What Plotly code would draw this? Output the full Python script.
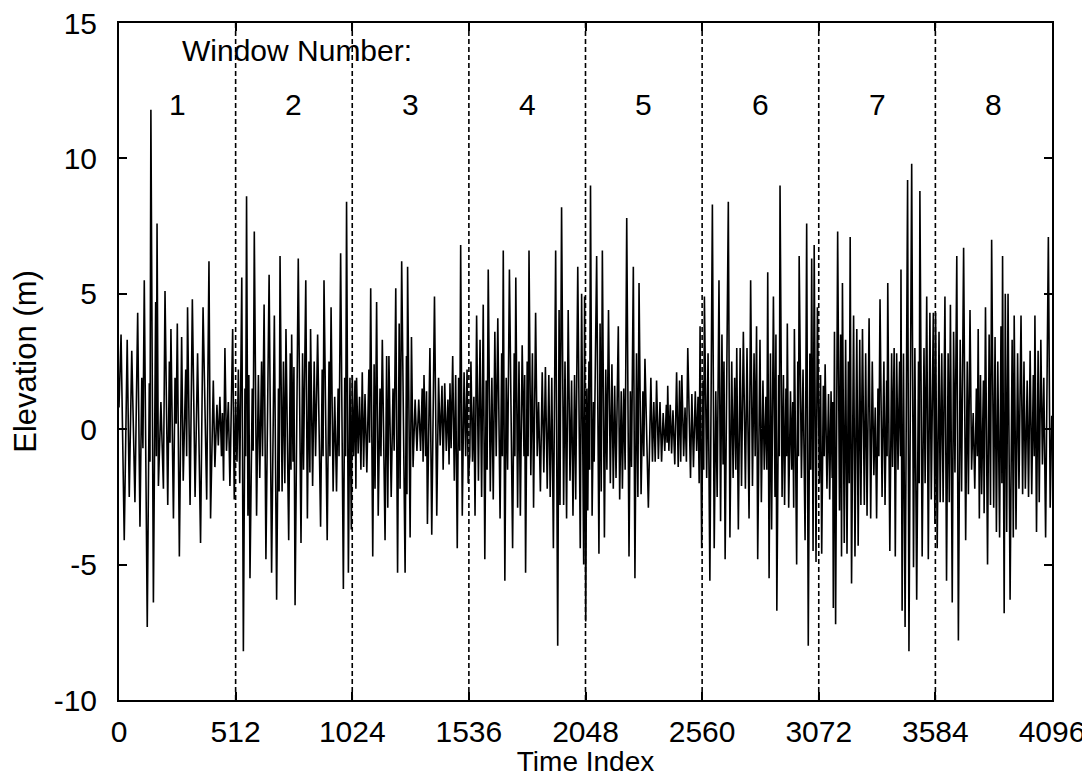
import plotly.graph_objects as go

# ---- data (time index, elevation in m) : local extrema ----
window1 = [(0,0.8),(9,3.5),(23,-4.1),(36,3.3),(45,-2.5),(56,2.9),(70,-2.7),(82,4.3),(92,-3.6),(100,1.9),(105,-0.7),(111,5.5),(124,-7.3),(133,1.7),(136,-1.2),(140,11.8),(151,-6.4),(161,4.7),(164,-1.0),(167,7.6),(173,-2.1),(184,1.0),(195,-2.2),(202,5.1),(214,-2.8),(221,2.5),(224,-0.5),(228,3.7),(239,-3.3),(246,1.9),(251,0.2),(256,3.9),(265,-4.7),(275,3.4),(282,-1.9),(293,2.2),(297,-1.0),(301,4.5),(312,-2.8),(322,4.8),(334,-2.5),(345,2.8),(358,-4.2),(369,4.5),(385,-2.6),(395,6.2),(402,-3.3),(414,1.8),(421,-1.4),(430,0.9),(436,-0.6),(443,1.2),(450,-1.0),(454,0.6),(459,-1.9),(465,3.0),(472,-0.8),(480,1.0),(487,-2.1),(499,3.7),(506,-2.6)]
window2 = [(512,1.0),(518,-1.2),(524,2.2),(530,-2.0),(539,5.6),(546,-8.2),(553,1.5),(556,-1.0),(560,8.6),(566,-3.2),(570,2.0),(575,-5.5),(585,1.5),(589,-0.8),(594,7.3),(604,-3.2),(612,2.0),(618,-1.8),(626,2.5),(630,-1.0),(637,4.6),(645,-4.8),(659,5.7),(670,-5.3),(682,4.2),(692,-6.3),(700,1.5),(703,-2.3),(707,6.4),(716,-2.3),(722,2.5),(728,-2.0),(733,3.7),(745,-4.1),(752,2.8),(755,-1.5),(758,3.5),(764,-1.2),(768,2.3),(773,-6.5),(787,6.3),(799,-4.2),(806,2.8),(810,-1.5),(820,5.5),(827,-3.3),(834,2.5),(838,-1.6),(841,3.7),(850,-2.1),(857,2.5),(863,-1.0),(872,3.5),(885,-3.6),(892,2.2),(896,-1.0),(900,5.5),(914,-4.1),(922,2.5),(926,-1.0),(931,4.5),(940,-2.3),(947,1.2),(955,-2.3),(962,1.5),(966,-1.0),(973,6.5),(985,-5.9),(991,1.9),(995,-1.0),(999,8.4),(1007,-5.3),(1014,1.9),(1020,-3.7)]
window3 = [(1024,2.0),(1030,-1.0),(1036,1.8),(1040,-2.2),(1043,1.9),(1050,-0.9),(1056,1.2),(1062,-1.5),(1068,2.1),(1074,-1.4),(1080,1.3),(1088,-1.6),(1097,2.2),(1100,-0.5),(1105,5.2),(1114,-4.7),(1120,2.4),(1124,-2.2),(1131,4.7),(1138,-3.2),(1146,1.5),(1150,-1.0),(1156,3.3),(1168,-4.1),(1175,2.7),(1180,-2.9),(1185,2.7),(1195,-2.5),(1203,1.5),(1208,-0.8),(1215,5.2),(1223,-5.3),(1230,3.9),(1234,-2.2),(1241,6.2),(1256,-5.3),(1262,2.7),(1264,-2.4),(1267,6.0),(1278,-4.0),(1284,3.4),(1291,-1.4),(1300,1.1),(1308,-0.8),(1316,1.1),(1324,-0.8),(1331,1.5),(1335,-1.2),(1339,2.0),(1346,-1.0),(1350,1.4),(1354,-3.5),(1365,3.0),(1373,-3.9),(1385,4.9),(1395,-3.2),(1403,1.9),(1410,-0.6),(1418,1.6),(1423,-1.5),(1430,1.7),(1437,-0.8),(1444,1.1),(1449,-1.3),(1453,1.7),(1458,-0.7),(1465,2.7),(1472,-1.9),(1478,2.0),(1485,-4.4),(1491,1.9),(1496,-0.8),(1500,6.8),(1507,-3.2),(1515,2.1),(1522,-1.0),(1528,2.2),(1533,-2.0)]
window4 = [(1540,-1.0),(1545,2.5),(1552,-1.2),(1558,1.2),(1563,-3.2),(1570,4.2),(1578,-1.9),(1585,3.3),(1592,-2.5),(1599,4.6),(1606,-4.8),(1612,1.8),(1616,-1.5),(1621,5.9),(1630,-2.3),(1637,1.9),(1643,-2.6),(1650,3.6),(1656,-1.0),(1663,4.1),(1673,-3.3),(1680,2.8),(1683,-1.0),(1687,6.6),(1694,-5.6),(1700,1.9),(1706,-1.5),(1714,5.9),(1728,-4.4),(1735,2.8),(1738,-1.0),(1742,5.6),(1750,-2.9),(1756,2.5),(1762,-3.2),(1770,3.1),(1778,-1.0),(1781,2.0),(1785,-5.3),(1792,2.5),(1796,-1.0),(1800,6.6),(1808,-1.7),(1815,2.8),(1820,-2.9),(1829,4.3),(1836,-1.0),(1842,1.0),(1850,-2.3),(1858,2.1),(1865,-1.6),(1872,2.3),(1880,-2.2),(1887,2.0),(1893,-2.5),(1900,1.9),(1907,-4.4),(1917,6.6),(1926,-8.0),(1932,4.4),(1936,-2.8),(1943,8.2),(1952,-2.8),(1958,2.5),(1965,-3.3),(1972,4.4),(1980,-1.9),(1987,1.8),(1993,-3.2),(2000,2.0),(2005,-2.6),(2014,6.0),(2025,-4.4),(2031,5.0),(2040,-5.0),(2044,4.9)]
window5 = [(2049,-7.1),(2054,1.5),(2058,-3.0),(2063,2.5),(2066,-1.5),(2070,9.0),(2077,-3.2),(2083,1.0),(2086,-1.2),(2097,6.4),(2107,-4.6),(2112,3.9),(2117,-2.3),(2122,6.6),(2131,-4.0),(2137,2.2),(2142,-1.5),(2149,4.4),(2157,-2.0),(2164,2.4),(2170,-2.2),(2176,1.6),(2182,-1.8),(2192,3.8),(2198,-2.6),(2205,1.4),(2210,-2.2),(2216,1.5),(2222,-1.5),(2229,7.8),(2239,-4.7),(2245,1.4),(2250,-1.4),(2258,6.0),(2265,-5.5),(2272,2.8),(2278,-2.5),(2283,5.4),(2292,-2.4),(2300,1.4),(2304,-1.0),(2309,2.6),(2324,-2.9),(2335,1.9),(2342,-1.2),(2348,1.0),(2354,-1.2),(2360,1.8),(2368,-1.1),(2375,1.0),(2382,-1.2),(2389,0.6),(2396,-0.8),(2403,0.9),(2406,-0.5),(2409,1.6),(2414,-0.8),(2420,0.9),(2426,-0.9),(2432,0.7),(2440,-1.3),(2448,2.1),(2455,-1.4),(2461,1.8),(2466,-1.2),(2471,2.0),(2479,-1.0),(2485,0.8),(2491,-1.2),(2497,3.0),(2509,-1.8),(2515,1.3),(2522,-1.4),(2530,1.4),(2536,-0.8),(2542,1.2),(2547,-2.0),(2551,3.8)]
window6 = [(2558,-4.4),(2564,1.8),(2567,-1.5),(2570,4.9),(2580,-1.8),(2586,2.8),(2594,-5.6),(2605,8.3),(2613,-4.4),(2620,1.4),(2626,-2.5),(2634,5.5),(2641,-3.4),(2647,3.5),(2652,-1.3),(2656,2.5),(2661,-4.8),(2675,8.4),(2682,-4.0),(2690,2.5),(2696,-1.8),(2703,1.9),(2708,-1.5),(2712,3.0),(2719,-3.7),(2727,3.0),(2733,-2.1),(2741,3.6),(2750,-2.2),(2757,3.0),(2766,-3.3),(2773,5.5),(2781,-2.1),(2788,2.8),(2793,-1.0),(2799,3.8),(2804,-4.8),(2814,3.3),(2820,-2.7),(2827,1.8),(2833,-1.5),(2840,1.2),(2844,-1.5),(2848,5.8),(2854,-5.5),(2860,2.8),(2865,-3.7),(2873,4.9),(2880,-2.5),(2884,3.5),(2888,-6.7),(2896,2.0),(2899,-1.0),(2902,9.0),(2911,-2.5),(2917,2.0),(2922,-2.8),(2928,1.5),(2931,-1.0),(2934,3.9),(2940,-2.9),(2948,1.4),(2953,-1.5),(2958,1.0),(2962,-2.9),(2965,3.7),(2975,-5.0),(2980,2.5),(2983,-1.0),(2986,6.4),(2996,-1.8),(3003,2.2),(3012,-4.1),(3019,7.6),(3026,-8.0),(3033,2.8),(3037,-1.5),(3041,6.3),(3047,-4.5),(3052,6.8),(3060,-4.9),(3066,4.5)]
window7 = [(3075,-2.0),(3080,2.0),(3085,-4.6),(3092,1.6),(3096,-1.0),(3100,2.4),(3108,-2.2),(3115,1.3),(3120,-2.6),(3126,1.4),(3131,-1.8),(3133,1.0),(3136,-6.6),(3141,3.6),(3146,-7.2),(3155,7.3),(3163,-3.0),(3168,3.5),(3172,-4.7),(3176,5.4),(3184,-4.2),(3190,3.3),(3196,-4.6),(3202,2.5),(3206,-2.0),(3210,7.1),(3216,-5.7),(3225,4.2),(3231,-4.7),(3239,3.7),(3245,-4.3),(3252,3.3),(3257,-2.8),(3264,3.7),(3272,-2.8),(3278,2.8),(3284,-3.2),(3293,4.1),(3300,-3.3),(3307,2.5),(3314,-1.7),(3320,0.8),(3326,-3.3),(3332,1.5),(3336,-1.0),(3341,4.8),(3350,-2.5),(3358,2.5),(3363,-2.8),(3370,1.8),(3372,-1.0),(3375,5.4),(3384,-4.5),(3392,2.8),(3396,-1.4),(3403,3.0),(3408,-4.7),(3414,2.8),(3420,-1.5),(3427,2.5),(3431,-1.0),(3433,5.9),(3438,-6.7),(3444,2.8),(3451,-7.3),(3462,9.2),(3468,-8.2),(3480,9.8),(3488,-5.1),(3494,3.0),(3502,-6.3),(3510,2.5),(3513,-2.0),(3516,8.8),(3526,-4.7),(3534,3.0),(3539,-2.0),(3546,4.9),(3553,-4.8),(3560,4.3),(3566,-2.6),(3575,4.3),(3582,-3.5)]
window8 = [(3585,4.3),(3592,-4.4),(3600,3.6),(3605,-2.7),(3612,2.8),(3618,-2.7),(3626,4.9),(3633,-5.6),(3640,2.8),(3645,-2.7),(3650,4.6),(3658,-6.4),(3664,3.6),(3670,-1.6),(3678,6.4),(3685,-7.8),(3693,3.3),(3699,-2.3),(3708,6.7),(3717,-4.1),(3724,2.5),(3729,-2.4),(3736,4.4),(3743,-1.5),(3750,0.6),(3757,-2.2),(3764,1.5),(3768,-1.0),(3772,3.7),(3777,-3.3),(3782,2.0),(3787,-2.4),(3795,1.8),(3798,-3.1),(3804,4.5),(3813,-5.0),(3820,3.5),(3826,-2.8),(3831,7.0),(3840,-2.9),(3846,3.4),(3852,-3.8),(3858,2.5),(3866,-4.0),(3872,3.8),(3876,-2.0),(3879,6.4),(3886,-6.8),(3891,5.0),(3897,-3.8),(3903,5.0),(3912,-6.3),(3921,3.3),(3926,-4.0),(3930,4.2),(3938,-3.7),(3945,2.8),(3951,-2.2),(3960,4.2),(3967,-2.4),(3973,2.5),(3979,-2.2),(3987,1.8),(3993,-2.5),(4000,2.9),(4007,-2.4),(4014,2.0),(4018,-1.0),(4021,4.2),(4028,-3.8),(4035,2.9),(4040,-2.7),(4047,3.3),(4054,-1.3),(4060,1.9),(4068,-4.0),(4080,7.1),(4088,-2.9),(4095,0.5)]

window_edges = [512, 1024, 1536, 2048, 2560, 3072, 3584]
window_centers = [256, 768, 1280, 1792, 2304, 2816, 3328, 3840]
window_labels = ["1", "2", "3", "4", "5", "6", "7", "8"]
x_ticks = [0, 512, 1024, 1536, 2048, 2560, 3072, 3584, 4096]
y_ticks = [-10, -5, 0, 5, 10, 15]

points = sorted(window1 + window2 + window3 + window4 + window5 + window6 + window7 + window8)
time_index = [p[0] for p in points]
elevation = [p[1] for p in points]

FONT = "Liberation Sans, Arial, Helvetica, sans-serif"
TICK_SIZE = 30
X_TITLE_SIZE = 28
Y_TITLE_SIZE = 31

fig = go.Figure()
fig.add_trace(go.Scatter(x=time_index, y=elevation, mode="lines",
                         line=dict(color="black", width=1.6), showlegend=False))

for e in window_edges:
    fig.add_shape(type="line", xref="x", yref="paper", x0=e, x1=e, y0=0, y1=1,
                  line=dict(color="black", width=1.6, dash="5px,3px"))

for c, lab in zip(window_centers, window_labels):
    fig.add_annotation(x=c, y=12.0, text=lab, showarrow=False, xref="x", yref="y",
                       font=dict(family=FONT, size=TICK_SIZE, color="black"))
fig.add_annotation(x=268, y=14.0, text="Window Number:", showarrow=False, xref="x", yref="y",
                   xanchor="left", font=dict(family=FONT, size=TICK_SIZE, color="black"))

axis_common = dict(showline=True, linecolor="black", linewidth=2, mirror="ticks",
                   ticks="inside", ticklen=8, tickwidth=1.5, tickcolor="black",
                   showgrid=False, zeroline=False, ticklabeloverflow="allow",
                   automargin=False,
                   tickfont=dict(family=FONT, size=TICK_SIZE, color="black"))
fig.update_xaxes(range=[0, 4096], tickvals=x_ticks, ticktext=[str(v) for v in x_ticks],
                 ticklabelstandoff=4,
                 title=dict(text="Time Index", font=dict(family=FONT, size=X_TITLE_SIZE, color="black"), standoff=6),
                 **axis_common)
fig.update_yaxes(range=[-10, 15], tickvals=y_ticks, ticktext=[str(v) for v in y_ticks],
                 ticklabelstandoff=14,
                 title=dict(text="Elevation (m)", font=dict(family=FONT, size=Y_TITLE_SIZE, color="black"), standoff=12),
                 **axis_common)

# page body has an 8px default margin, so the figure is sized to end at the window edge
fig.update_layout(width=1082, height=769, plot_bgcolor="white", paper_bgcolor="white",
                  margin=dict(l=111, r=38, t=15, b=77), font=dict(family=FONT))

fig.write_html("out.html")
